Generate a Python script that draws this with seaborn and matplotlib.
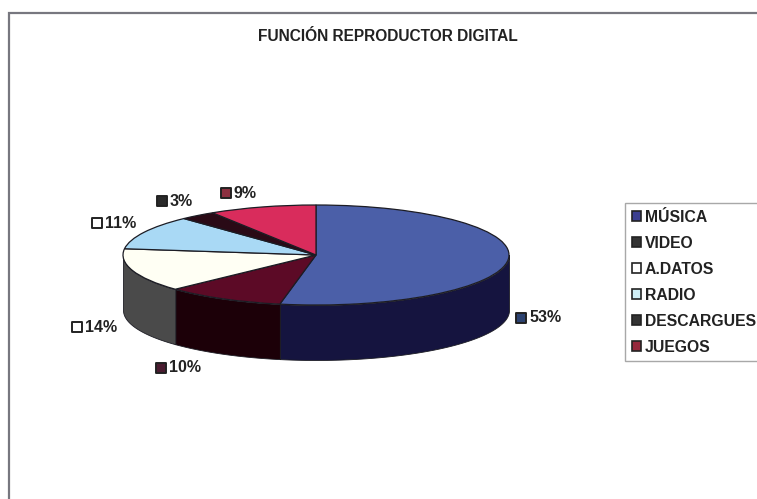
import numpy as np
import matplotlib.pyplot as plt
from matplotlib.patches import Patch
import seaborn as sns

categories = ["MÚSICA", "VIDEO", "A.DATOS", "RADIO", "DESCARGUES", "JUEGOS"]
values = [53, 10, 14, 11, 3, 9]
value_labels = ["53%", "10%", "14%", "11%", "3%", "9%"]

top_colors = ["#4b5fa8", "#5c0a26", "#fffff4", "#a9d9f5", "#2a0a16", "#d92c5c"]
wall_colors = ["#15143f", "#1c0008", "#4a4a4a", "#70a0c0", "#100005", "#701030"]
label_colors = ["#2c4270", "#4a1c30", "#ffffff", "#ffffff", "#2a2a2a", "#8c3040"]
legend_colors = ["#3c3f90", "#333333", "#ffffff", "#cfeef5", "#333333", "#96283c"]

W, H = 757, 499
cx, cy, rx, ry = 316, 255, 193, 50
depth = 1.1
label_pos = [(521, 318), (161, 368), (77, 327), (97, 223), (162, 201), (226, 193)]

sns.set_theme(style="white")
plt.rcParams['font.family'] = ['Liberation Sans', 'DejaVu Sans']
ink = "#1c1c24"

fig = plt.figure(figsize=(W / 100, H / 100), dpi=100, facecolor="white")

# squashed pie axes, so 1 data unit is rx wide and ry high
ax_w, ax_h = rx * 2.5, ry * (2.5 + depth)
ax = fig.add_axes([(cx - rx * 1.25) / W, 1 - (cy + ry * (1.25 + depth)) / H, ax_w / W, ax_h / H])

# side wall, only the front half of the rim shows
edges = np.cumsum([0] + values) / sum(values) * 2 * np.pi
for start, stop, color in zip(edges[:-1], edges[1:], wall_colors):
    lo, hi = max(start, np.pi / 2), min(stop, 3 * np.pi / 2)
    if lo >= hi:
        continue
    theta = np.linspace(lo, hi, 80)
    ax.fill_between(np.sin(theta), np.cos(theta) - depth, np.cos(theta),
                    color=color, lw=0.6, edgecolor=ink)

ax.pie(values, colors=sns.color_palette(top_colors), startangle=90, counterclock=False,
       wedgeprops={"edgecolor": ink, "linewidth": 0.9})
ax.set_aspect("auto")
ax.set_xlim(-1.25, 1.25)
ax.set_ylim(-1.25 - depth, 1.25)
ax.axis("off")

# overlay in picture pixels for frame, title and labels
over = fig.add_axes([0, 0, 1, 1], facecolor="none")
over.set_xlim(0, W)
over.set_ylim(H, 0)
over.axis("off")

over.plot([9, 9, W], [H, 13, 13], color="#77777f", lw=1.6, solid_joinstyle="miter")
over.text(388, 36, "FUNCIÓN REPRODUCTOR DIGITAL", ha="center", va="center",
          fontsize=11.2, fontweight="bold", color="#222222")

for (x, y), txt, color in zip(label_pos, value_labels, label_colors):
    over.scatter([x], [y], marker="s", s=42, color=color, edgecolor="#222222", linewidth=1.4)
    over.text(x + 8, y, txt, ha="left", va="center", fontsize=11.5, fontweight="bold", color="#222222")

handles = [Patch(facecolor=c, edgecolor="#222222", linewidth=1.2) for c in legend_colors]
leg = over.legend(handles, categories, loc="upper left", bbox_to_anchor=(625 / W, 1 - 203 / H),
                  bbox_transform=fig.transFigure, frameon=True, fancybox=False,
                  edgecolor="#a8a8a8", facecolor="white", framealpha=1, borderaxespad=0,
                  handlelength=0.62, handleheight=0.62, handletextpad=0.22,
                  labelspacing=0.7, borderpad=0.42, prop={"weight": "bold", "size": 11.3})
leg.get_frame().set_linewidth(1.0)
for text in leg.get_texts():
    text.set_color("#222222")

fig.savefig("out.png", dpi=100)
